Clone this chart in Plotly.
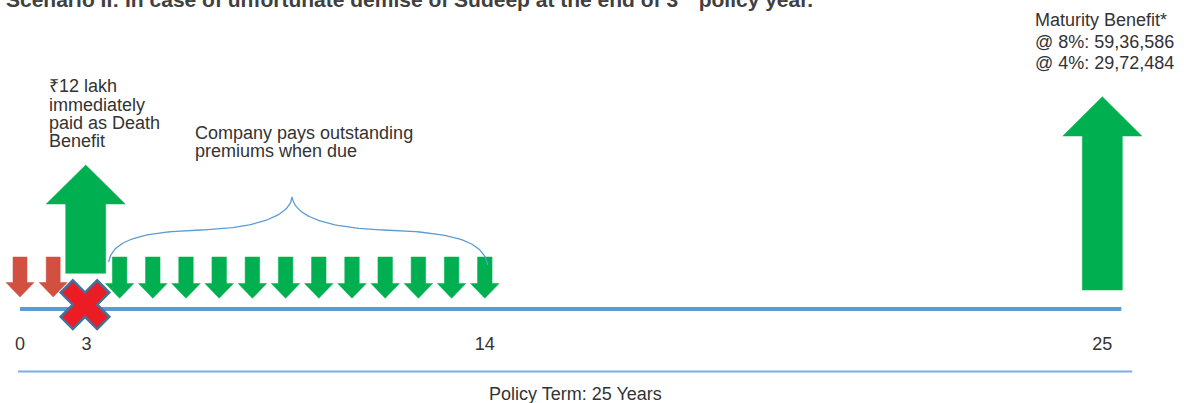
import plotly.graph_objects as go

# ---------------- data ----------------
tick_labels = ["0", "3", "14", "25"]
tick_slots = [0, 2, 14, 32.6]                 # timeline slot of each tick label
policyholder_premium_slots = [0, 1]            # premiums paid by the policyholder
company_premium_slots = [3, 4, 5, 6, 7, 8, 9, 10, 11, 12, 13, 14]  # premiums paid by the company
death_slot = 2
maturity_slot = 32.6
death_benefit_lakh = 12
death_policy_year = 3
policy_term_years = 25
maturity_rates = ["8%", "4%"]
maturity_values = [5936586, 2972484]

# ---------------- geometry / style constants ----------------
W, H = 1184, 403
PX0 = 20.0          # pixel column of slot 0
PPS = 33.2          # pixels per timeline slot
AXIS_PX = 309.0     # pixel row of the timeline

BLUE = "#5B9BD5"
RED_ARROW = "#D15040"
GREEN = "#00B050"
TEXT = "#333333"
FONT = "Liberation Sans, Arial, sans-serif"


def sw(px):
    """pixel width -> slot units"""
    return px / PPS


def yv(py):
    """pixel row -> y value (pixels above the timeline)"""
    return AXIS_PX - py


def indian(n):
    s = str(n)
    last3, rest = s[-3:], s[:-3]
    groups = []
    while len(rest) > 2:
        groups.insert(0, rest[-2:])
        rest = rest[:-2]
    if rest:
        groups.insert(0, rest)
    return ",".join(groups + [last3])


def down_arrow(xc, top, neck, tip, stem, head):
    s, h = sw(stem) / 2, sw(head) / 2
    xs = [xc - s, xc + s, xc + s, xc + h, xc, xc - h, xc - s, xc - s]
    ys = [top, top, neck, neck, tip, neck, neck, top]
    return xs, ys


def up_arrow(xc, bottom, neck, tip, stem, head):
    return down_arrow(xc, bottom, neck, tip, stem, head)


def polys(slots, fn, *args):
    X, Y = [], []
    for s in slots:
        xs, ys = fn(s, *args)
        X += xs + [None]
        Y += ys + [None]
    return X, Y


def bez(p0, p1, p2, p3, n=40):
    xs, ys = [], []
    for i in range(n + 1):
        t = i / n
        a, b, c, d = (1 - t) ** 3, 3 * (1 - t) ** 2 * t, 3 * (1 - t) * t ** 2, t ** 3
        xs.append(a * p0[0] + b * p1[0] + c * p2[0] + d * p3[0])
        ys.append(a * p0[1] + b * p1[1] + c * p2[1] + d * p3[1])
    return xs, ys


fig = go.Figure()

# timeline
x_end = maturity_slot + sw(19)
fig.add_trace(go.Scatter(x=[tick_slots[0], x_end], y=[0, 0], mode="lines",
                         line=dict(color=BLUE, width=4), hoverinfo="skip"))
# policy term line
fig.add_trace(go.Scatter(x=[tick_slots[0] - sw(2), maturity_slot + sw(30)],
                         y=[yv(371.5), yv(371.5)], mode="lines",
                         line=dict(color="#7DAEE0", width=2), hoverinfo="skip"))

# premiums paid by the policyholder (red down arrows)
rx, ry = polys(policyholder_premium_slots, down_arrow, yv(257), yv(282.5), yv(297), 14, 28)
fig.add_trace(go.Scatter(x=rx, y=ry, mode="lines", fill="toself", fillcolor=RED_ARROW,
                         line=dict(color=RED_ARROW, width=0.5), hoverinfo="skip"))

# premiums paid by the company (green down arrows)
gx, gy = polys(company_premium_slots, down_arrow, yv(257), yv(283.5), yv(298.3), 14.5, 28.5)
fig.add_trace(go.Scatter(x=gx, y=gy, mode="lines", fill="toself", fillcolor=GREEN,
                         line=dict(color=GREEN, width=0.5), hoverinfo="skip"))

# death benefit (green up arrow)
dx, dy = up_arrow(death_slot - sw(0.7), yv(273.3), yv(204), yv(165), 40, 79)
fig.add_trace(go.Scatter(x=dx, y=dy, mode="lines", fill="toself", fillcolor=GREEN,
                         line=dict(color=GREEN, width=0.5), hoverinfo="skip"))

# maturity benefit (green up arrow)
mx, my = up_arrow(maturity_slot, yv(290), yv(136), yv(96.7), 40, 79)
fig.add_trace(go.Scatter(x=mx, y=my, mode="lines", fill="toself", fillcolor=GREEN,
                         line=dict(color=GREEN, width=0.5), hoverinfo="skip"))

# curly brace over the company-paid premiums
bl = company_premium_slots[0] - sw(11)
br = company_premium_slots[-1] + sw(3)
bw = br - bl
fx = [0, .0105, .084, .242, .242, .40, .479, .484, .484, .489, .568, .726, .726, .90, .989, 1.0]
fy = [262, 240, 232, 230, 230, 228, 215, 197, 197, 215, 228, 230, 230, 232, 240, 265]
bx, by = [], []
for k in range(0, 16, 4):
    pts = [(bl + fx[k + j] * bw, yv(fy[k + j])) for j in range(4)]
    xs, ys = bez(*pts)
    bx += xs
    by += ys
fig.add_trace(go.Scatter(x=bx, y=by, mode="lines", line=dict(color=BLUE, width=1.3),
                         hoverinfo="skip"))

# death marker (red X)
fig.add_trace(go.Scatter(x=[death_slot - sw(1.4)], y=[yv(304.7)], mode="markers",
                         marker=dict(symbol="x", size=43, color="#EC1C24",
                                     line=dict(color="#41719C", width=2.5)),
                         hoverinfo="skip"))

# tick labels
fig.add_trace(go.Scatter(x=tick_slots, y=[yv(345)] * len(tick_slots), mode="text",
                         text=tick_labels, textposition="middle center",
                         textfont=dict(family=FONT, size=18, color=TEXT), hoverinfo="skip"))

annotations = []


def note(text, px, py, size=18, anchor="left", bold=False, color=TEXT):
    annotations.append(dict(
        text=f"<b>{text}</b>" if bold else text,
        x=px / W, y=1 - py / H, xref="paper", yref="paper",
        xanchor=anchor, yanchor="middle", showarrow=False,
        font=dict(family=FONT, size=size, color=color)))


note(f"Scenario II: In case of unfortunate demise of Sudeep at the end of "
     f"{death_policy_year}<sup>rd</sup> policy year.", 4, -2.3, size=21, bold=True, color="#404040")

death_lines = [f"₹{death_benefit_lakh} lakh", "immediately", "paid as Death", "Benefit"]
for i, t in enumerate(death_lines):
    note(t, 47, 86.5 + 18 * i)

for i, t in enumerate(["Company pays outstanding", "premiums when due"]):
    note(t, 193, 132.8 + 18 * i)

mat_lines = ["Maturity Benefit*"] + [f"@ {r}: {indian(v)}" for r, v in zip(maturity_rates, maturity_values)]
for i, t in enumerate(mat_lines):
    note(t, 1033, 20.5 + 21.3 * i)

note(f"Policy Term: {policy_term_years} Years", 575, 394, anchor="center")

fig.update_layout(
    width=W, height=H, margin=dict(l=0, r=0, t=0, b=0),
    paper_bgcolor="white", plot_bgcolor="white",
    showlegend=False, hovermode=False,
    xaxis=dict(range=[-PX0 / PPS, (W - PX0) / PPS], visible=False, fixedrange=True),
    yaxis=dict(range=[yv(H), yv(0)], visible=False, fixedrange=True),
    annotations=annotations,
)

fig.write_html("out.html", config={"displayModeBar": False},
               post_script="document.body.style.margin='0';")
